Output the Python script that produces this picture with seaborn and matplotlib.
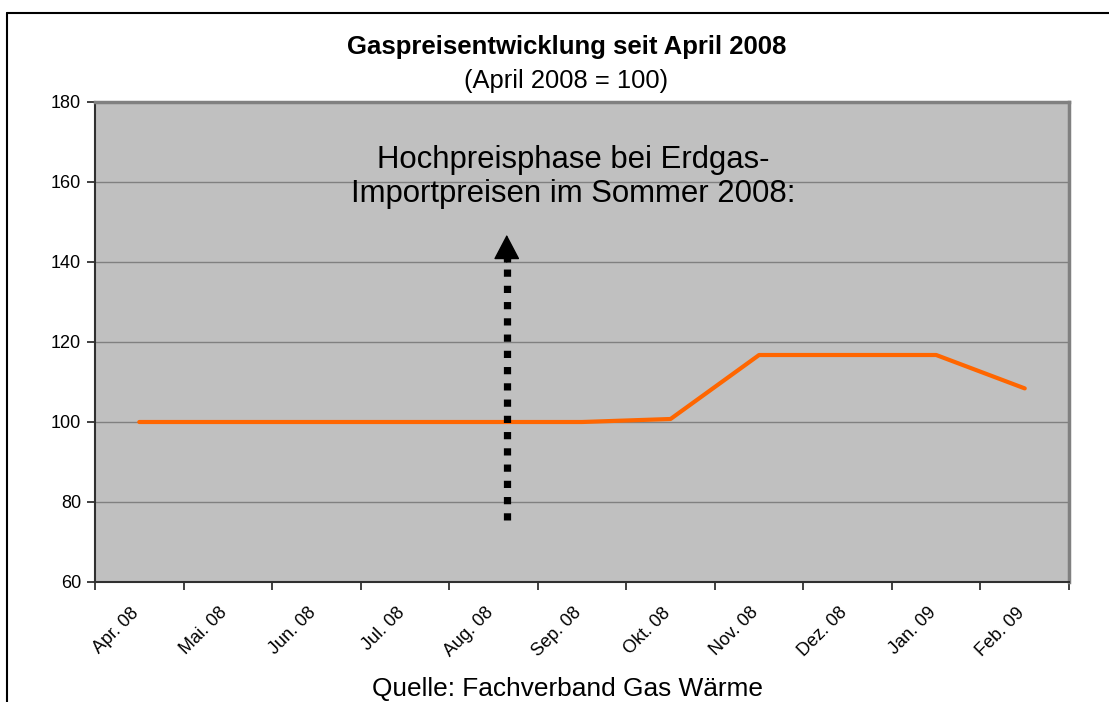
import matplotlib
matplotlib.use('Agg')
import matplotlib.pyplot as plt
import matplotlib.transforms as mtransforms
import pandas as pd
import seaborn as sns
from matplotlib.lines import Line2D

# data (April 2008 = 100)
months = ['Apr. 08', 'Mai. 08', 'Jun. 08', 'Jul. 08', 'Aug. 08', 'Sep. 08',
          'Okt. 08', 'Nov. 08', 'Dez. 08', 'Jan. 09', 'Feb. 09']
index_values = [100, 100, 100, 100, 100, 100, 100.75, 116.75, 116.75, 116.75, 108.4]
y_ticks = [60, 80, 100, 120, 140, 160, 180]

# arrow annotation (category position, start and tip value)
arrow_x = 4.15
arrow_start = 75.5
arrow_stem_top = 141.5
arrow_tip = 146.8

df = pd.DataFrame({'month': months, 'value': index_values})

sns.set_style('white')
plt.rcParams['font.family'] = ['Liberation Sans', 'DejaVu Sans']
plt.rcParams['text.color'] = 'black'
plt.rcParams['xtick.labelcolor'] = 'black'
plt.rcParams['ytick.labelcolor'] = 'black'

fig = plt.figure(figsize=(11.09, 7.02), dpi=100)
ax = fig.add_axes([95 / 1109, 120 / 702, 974 / 1109, 480 / 702])
ax.set_facecolor('#C0C0C0')

sns.lineplot(data=df, x='month', y='value', ax=ax, color='#FF6600',
             linewidth=3, sort=False, zorder=3)

ax.set_ylim(60, 180)
ax.set_yticks(y_ticks)
ax.set_xlim(-0.5, len(months) - 0.5)
ax.grid(axis='y', color='#808080', linewidth=1)
ax.set_axisbelow(True)

# Excel style: ticks on category boundaries, labels at centres
ax.set_xticks([i - 0.5 for i in range(len(months) + 1)])
ax.set_xticklabels([])
ax.set_xticks(range(len(months)), minor=True)
ax.set_xticklabels(months, minor=True, rotation=45, ha='right',
                   rotation_mode='anchor', fontsize=13)
ax.tick_params(axis='x', which='major', length=6, width=1.2, color='#202020',
               direction='out', bottom=True)
ax.tick_params(axis='x', which='minor', length=0, pad=16)
ax.tick_params(axis='y', length=6, width=1.2, color='#202020', direction='out',
               left=True, labelsize=13, pad=4)
ax.set_xlabel('')
ax.set_ylabel('')

shift = mtransforms.ScaledTranslation(-9 / 100, 0, fig.dpi_scale_trans)
for lab in ax.get_xticklabels(minor=True):
    lab.set_transform(lab.get_transform() + shift)

for side in ['left', 'bottom']:
    ax.spines[side].set_color('#303030')
    ax.spines[side].set_linewidth(1.5)
for side in ['top', 'right']:
    ax.spines[side].set_color('#808080')
    ax.spines[side].set_linewidth(2.5)

# dotted arrow
ax.plot([arrow_x, arrow_x], [arrow_start, arrow_stem_top], color='black',
        linewidth=5.2, linestyle=(0, (1, 1.25)), solid_capstyle='butt',
        dash_capstyle='butt', zorder=4)
ax.annotate('', xy=(arrow_x, arrow_tip), xytext=(arrow_x, arrow_stem_top - 1.5),
            arrowprops=dict(arrowstyle='-|>,head_length=0.8,head_width=0.42',
                            mutation_scale=20, color='black', lw=1,
                            shrinkA=0, shrinkB=0), zorder=5)
ax.plot([arrow_x, arrow_x], [arrow_stem_top - 1.5, arrow_stem_top + 0.5],
        color='black', linewidth=5.2, solid_capstyle='butt', zorder=4)

ax.text(4.9, 161.3, 'Hochpreisphase bei Erdgas-\nImportpreisen im Sommer 2008:',
        ha='center', va='center', fontsize=22.4, linespacing=1.15, zorder=6)

fig.text(567 / 1109, 1 - 47 / 702, 'Gaspreisentwicklung seit April 2008',
         ha='center', va='center', fontsize=18.5, fontweight='bold')
fig.text(566 / 1109, 1 - 81 / 702, '(April 2008 = 100)',
         ha='center', va='center', fontsize=18.4)
fig.text(568 / 1109, 1 - 689 / 702, 'Quelle: Fachverband Gas Wärme',
         ha='center', va='center', fontsize=18.9)

# chart border (left and top visible)
fig.add_artist(Line2D([7 / 1109, 7 / 1109], [0, 1 - 13 / 702],
                      transform=fig.transFigure, color='black', linewidth=1.5))
fig.add_artist(Line2D([7 / 1109, 1], [1 - 13 / 702, 1 - 13 / 702],
                      transform=fig.transFigure, color='black', linewidth=1.5))

fig.savefig('out.png', dpi=100, facecolor='white')
